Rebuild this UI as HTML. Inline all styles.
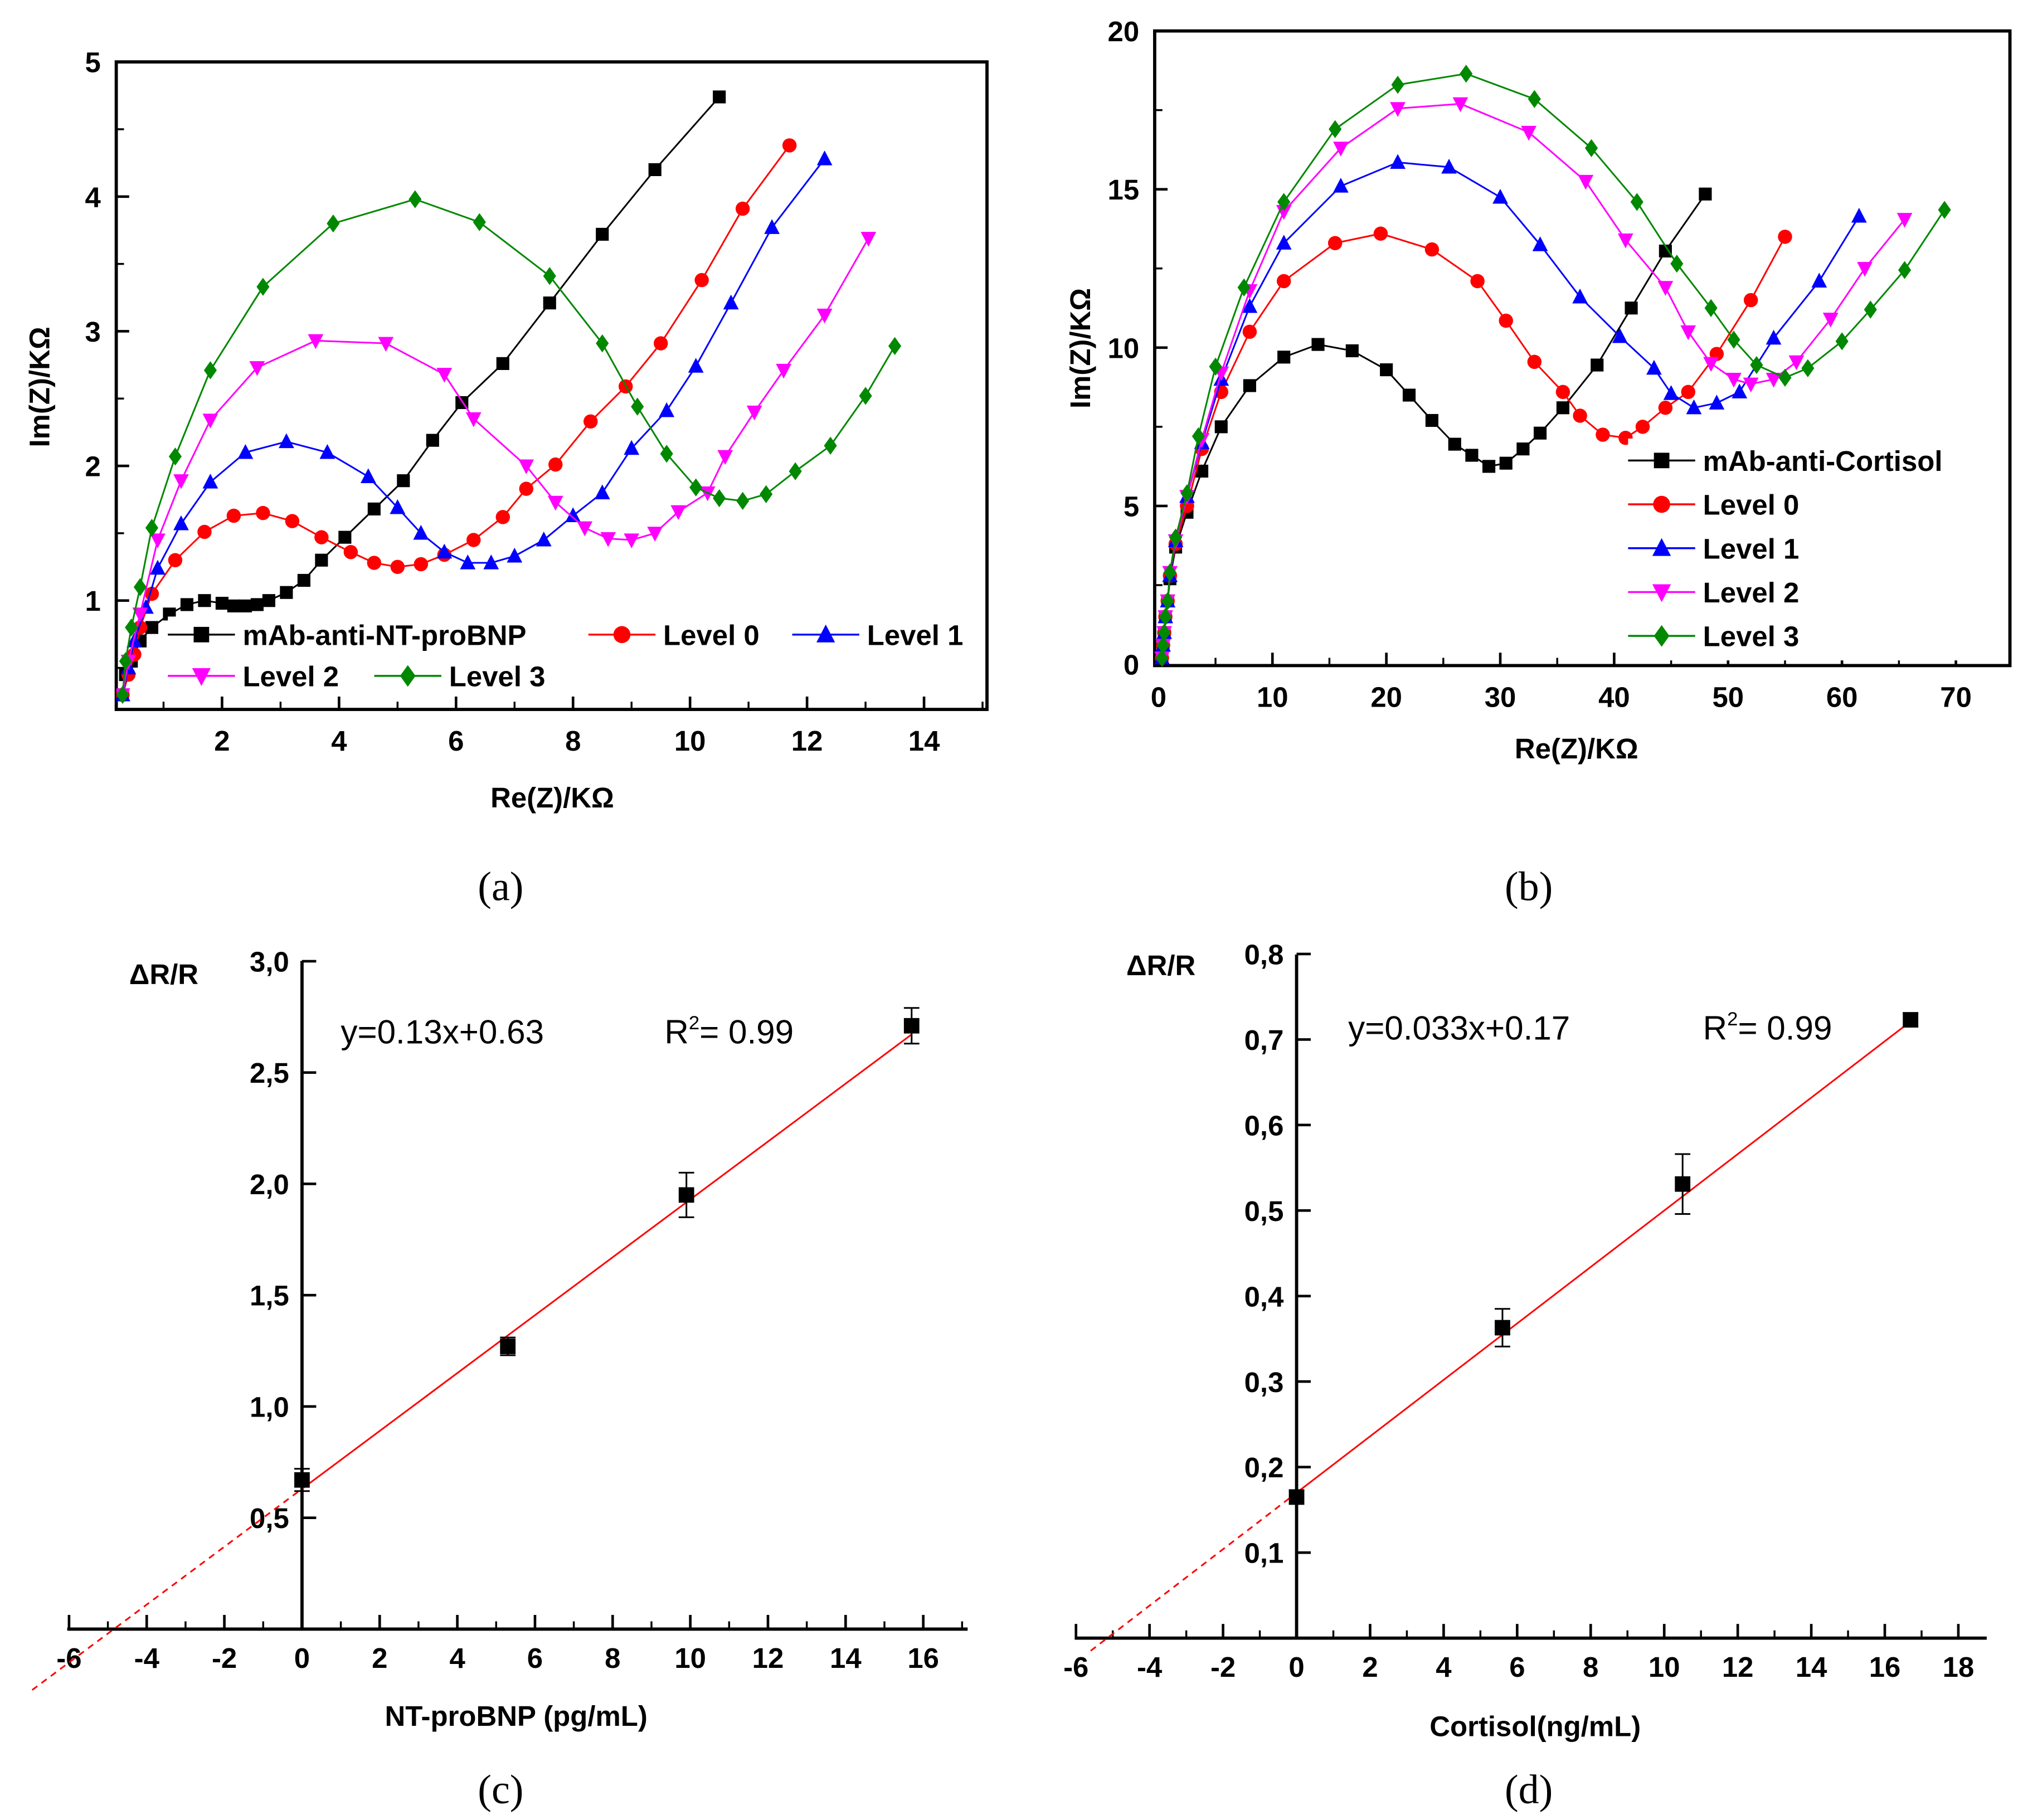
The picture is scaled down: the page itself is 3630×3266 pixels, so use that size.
<!DOCTYPE html>
<html><head><meta charset="utf-8"><style>
html,body{margin:0;padding:0;background:#fff}
svg{display:block}
text{font-family:"Liberation Sans",sans-serif}
.tk{font-weight:bold;font-size:22px}
.cap{font-family:"Liberation Serif",serif;font-size:32px}
</style></head><body>
<svg id="s" width="3630" height="3266" viewBox="0 0 1568 1411" xmlns="http://www.w3.org/2000/svg">
<g id="ga"></g>
<g id="gb"></g>
<g id="gc"></g>
<g id="gd"></g>
<text class="cap" x="388" y="698" text-anchor="middle">(a)</text>
<text class="cap" x="1185" y="698" text-anchor="middle">(b)</text>
<text class="cap" x="388" y="1398" text-anchor="middle">(c)</text>
<text class="cap" x="1185" y="1398" text-anchor="middle">(d)</text>
</svg>
<script>
// Panel A data
const aBlackX=[0.3,0.35,0.45,0.6,0.8,1.1,1.4,1.7,2.0,2.2,2.4,2.6,2.8,3.1,3.4,3.7,4.1,4.6,5.1,5.6,6.1,6.8,7.6,8.5,9.4,10.5];
const aBlackY=[0.3,0.45,0.55,0.7,0.8,0.9,0.97,1.0,0.98,0.96,0.96,0.97,1.0,1.06,1.15,1.3,1.47,1.68,1.89,2.19,2.47,2.76,3.21,3.72,4.2,4.74];
const aRedX=[0.3,0.4,0.5,0.6,0.8,1.2,1.7,2.2,2.7,3.2,3.7,4.2,4.6,5.0,5.4,5.8,6.3,6.8,7.2,7.7,8.3,8.9,9.5,10.2,10.9,11.7];
const aRedY=[0.3,0.45,0.6,0.8,1.05,1.3,1.51,1.63,1.65,1.59,1.47,1.36,1.28,1.25,1.27,1.34,1.45,1.62,1.83,2.01,2.33,2.59,2.91,3.38,3.91,4.38];
const aBlueX=[0.3,0.4,0.5,0.7,0.9,1.3,1.8,2.4,3.1,3.8,4.5,5.0,5.4,5.8,6.2,6.6,7.0,7.5,8.0,8.5,9.0,9.6,10.1,10.7,11.4,12.3];
const aBlueY=[0.3,0.5,0.7,0.95,1.24,1.57,1.88,2.1,2.18,2.1,1.92,1.69,1.5,1.36,1.28,1.28,1.33,1.45,1.63,1.8,2.13,2.41,2.74,3.21,3.77,4.28];
const aMagX=[0.3,0.4,0.6,0.9,1.3,1.8,2.6,3.6,4.8,5.8,6.3,7.2,7.7,8.2,8.6,9.0,9.4,9.8,10.3,10.6,11.1,11.6,12.3,13.05];
const aMagY=[0.3,0.55,0.9,1.45,1.89,2.34,2.73,2.93,2.91,2.68,2.35,2.0,1.73,1.54,1.46,1.45,1.5,1.66,1.8,2.07,2.4,2.71,3.12,3.69];
const aGrnX=[0.3,0.35,0.45,0.6,0.8,1.2,1.8,2.7,3.9,5.3,6.4,7.6,8.5,9.1,9.6,10.1,10.5,10.9,11.3,11.8,12.4,13.0,13.5];
const aGrnY=[0.3,0.55,0.8,1.1,1.54,2.07,2.71,3.33,3.8,3.98,3.81,3.41,2.91,2.44,2.09,1.84,1.76,1.74,1.79,1.96,2.15,2.52,2.89];
const aXTicks=[2,4,6,8,10,12,14];
const aYTicks=[1,2,3,4,5];
// Panel B data
const bBlackX=[0.3,0.4,0.5,0.6,0.8,1,1.5,2.5,3.8,5.5,8,11,14,17,20,22,24,26,27.5,29,30.5,32,33.5,35.5,38.5,41.5,44.5,48];
const bBlackY=[0.2,0.6,1,1.5,2,2.7,3.7,4.8,6.1,7.5,8.8,9.7,10.1,9.9,9.3,8.5,7.7,6.95,6.6,6.25,6.35,6.8,7.3,8.1,9.45,11.25,13.05,14.85];
const bRedX=[0.3,0.4,0.5,0.6,0.8,1,1.5,2.5,3.8,5.5,8,11,15.5,19.5,24,28,30.5,33,35.5,37,39,41,42.5,44.5,46.5,49,52,55];
const bRedY=[0.2,0.6,1,1.5,2,2.8,3.8,5.0,6.8,8.6,10.5,12.1,13.3,13.6,13.1,12.1,10.85,9.55,8.6,7.85,7.25,7.15,7.5,8.1,8.6,9.8,11.5,13.5];
const bBlueX=[0.3,0.4,0.5,0.6,0.8,1,1.5,2.5,3.8,5.5,8,11,16,21,25.5,30,33.5,37,40.5,43.5,45,47,49,51,54,58,61.5];
const bBlueY=[0.2,0.6,1,1.5,2,2.8,3.9,5.3,7.0,9.0,11.3,13.3,15.1,15.85,15.7,14.75,13.25,11.6,10.35,9.35,8.55,8.1,8.25,8.6,10.3,12.1,14.15];
const bMagX=[0.3,0.4,0.5,0.6,0.8,1,1.5,2.5,3.8,5.5,8,11,16,21,26.5,32.5,37.5,41,44.5,46.5,48.5,50.5,52,54,56,59,62,65.5];
const bMagY=[0.2,0.6,1,1.5,2,2.9,3.9,5.3,7.1,9.2,11.8,14.3,16.3,17.55,17.7,16.8,15.25,13.4,11.9,10.5,9.5,9.0,8.85,9.0,9.55,10.9,12.5,14.05];
const bGrnX=[0.3,0.4,0.5,0.6,0.8,1,1.5,2.5,3.5,5,7.5,11,15.5,21,27,33,38,42,45.5,48.5,50.5,52.5,55,57,60,62.5,65.5,69];
const bGrnY=[0.2,0.6,1,1.5,2,2.9,4.0,5.4,7.2,9.4,11.9,14.6,16.9,18.3,18.65,17.85,16.3,14.6,12.65,11.25,10.25,9.45,9.05,9.35,10.2,11.2,12.45,14.35];
const bXTicks=[0,10,20,30,40,50,60,70];
const bYTicks=[0,5,10,15,20];
// Panel C data
const cX=[0,5.3,9.9,15.7];
const cY=[0.67,1.27,1.95,2.71];
const cErr=[0.05,0.04,0.1,0.08];
const cSlope=[0.13], cIntercept=[0.63];
const cXTicks=[-6,-4,-2,0,2,4,6,8,10,12,14,16];
const cYTicks=[0.5,1.0,1.5,2.0,2.5,3.0];
const cYLabels=["0,5","1,0","1,5","2,0","2,5","3,0"];
// Panel D data
const dX=[0,5.6,10.5,16.7];
const dY=[0.165,0.363,0.531,0.723];
const dErr=[0.008,0.022,0.035,0.008];
const dSlope=[0.033], dIntercept=[0.17];
const dXTicks=[-6,-4,-2,0,2,4,6,8,10,12,14,16,18];
const dYTicks=[0.1,0.2,0.3,0.4,0.5,0.6,0.7,0.8];
const dYLabels=["0,1","0,2","0,3","0,4","0,5","0,6","0,7","0,8"];

const NS="http://www.w3.org/2000/svg";
function mk(p,t,a,txt){const e=document.createElementNS(NS,t);for(const k in a)e.setAttribute(k,a[k]);if(txt!==undefined)e.textContent=txt;p.appendChild(e);return e;}
function marker(p,type,x,y,s,col){
  let e;
  if(type==='sq') e=mk(p,'rect',{x:x-s,y:y-s,width:2*s,height:2*s,fill:col});
  else if(type==='ci') e=mk(p,'circle',{cx:x,cy:y,r:s*1.1,fill:col});
  else if(type==='tu') e=mk(p,'polygon',{points:`${x},${y-s*1.3} ${x-s*1.2},${y+s} ${x+s*1.2},${y+s}`,fill:col});
  else if(type==='td') e=mk(p,'polygon',{points:`${x},${y+s*1.3} ${x-s*1.2},${y-s} ${x+s*1.2},${y-s}`,fill:col});
  else e=mk(p,'polygon',{points:`${x},${y-s*1.4} ${x+s},${y} ${x},${y+s*1.4} ${x-s},${y}`,fill:col});
  
  
}
function series(p,xs,ys,sx,sy,type,col,name,s){
  const g=mk(p,'g',{});
  
  
  const pl=mk(g,'polyline',{points:xs.map((v,i)=>sx(v)+','+sy(ys[i])).join(' '),fill:'none',stroke:col,'stroke-width':1.3});
  
  
  xs.forEach((v,i)=>marker(g,type,sx(v),sy(ys[i]),s,col));
}
function legendEntry(p,x,y,type,col,label,name){
  const g=mk(p,'g',{});
  
  
  mk(g,'line',{x1:x,y1:y,x2:x+52,y2:y,stroke:col,'stroke-width':1.5});
  marker(g,type,x+26,y,6,col);
  mk(g,'text',{x:x+58,y:y+8,class:'tk','font-size':24},label);
}
function boxPlot(g,L,R,T,B,sx,sy,xt,yt){
  const ax=mk(g,'rect',{x:L,y:T,width:R-L,height:B-T,fill:'none',stroke:'#000','stroke-width':2.5});
  
  
  xt.forEach((v,i)=>{const x=sx(v);mk(g,'line',{x1:x,y1:B,x2:x,y2:B-10,stroke:'#000','stroke-width':2});
    const t=mk(g,'text',{x:x,y:B+32,class:'tk','text-anchor':'middle'},String(v));
    
    const m=(v+(xt[1]-xt[0])/2);const xm=sx(m);if(xm<R)mk(g,'line',{x1:xm,y1:B,x2:xm,y2:B-6,stroke:'#000','stroke-width':1.5});
    const m2=(v-(xt[1]-xt[0])/2);const xm2=sx(m2);if(i===0&&xm2>L)mk(g,'line',{x1:xm2,y1:B,x2:xm2,y2:B-6,stroke:'#000','stroke-width':1.5});});
  yt.forEach((v,i)=>{const y=sy(v);mk(g,'line',{x1:L,y1:y,x2:L+10,y2:y,stroke:'#000','stroke-width':2});
    const t=mk(g,'text',{x:L-12,y:y+8,class:'tk','text-anchor':'end'},String(v));
    
    const ym=sy(v+(yt[1]-yt[0])/2);if(ym>T)mk(g,'line',{x1:L,y1:ym,x2:L+6,y2:ym,stroke:'#000','stroke-width':1.5});
    if(i===0){const y2=sy(v-(yt[1]-yt[0])/2);if(y2<B)mk(g,'line',{x1:L,y1:y2,x2:L+6,y2:y2,stroke:'#000','stroke-width':1.5});}});
}
// Panel A
(function(){
  const g=document.getElementById('ga');
  const L=90,R=765,T=48,B=550;
  const sx=v=>81.3+v*45.35, sy=v=>570-v*104.4;
  boxPlot(g,L,R,T,B,sx,sy,aXTicks,aYTicks);
  const clip=mk(g,'clipPath',{id:'ca'});mk(clip,'rect',{x:L,y:T,width:R-L,height:B-T});
  const pg=mk(g,'g',{'clip-path':'url(#ca)'});
  series(pg,aBlackX,aBlackY,sx,sy,'sq','#000','series-mab-anti-nt-probnp',5);
  series(pg,aRedX,aRedY,sx,sy,'ci','#f00','series-level-0',5);
  series(pg,aBlueX,aBlueY,sx,sy,'tu','#00f','series-level-1',5);
  series(pg,aMagX,aMagY,sx,sy,'td','#f0f','series-level-2',5);
  series(pg,aGrnX,aGrnY,sx,sy,'di','#080','series-level-3',5);
  const lg=mk(g,'g',{});
  mk(lg,'rect',{x:130,y:478,width:630,height:62,fill:'#fff'});
  legendEntry(lg,130,492,'sq','#000','mAb-anti-NT-proBNP','legend-entry-mab');
  legendEntry(lg,456,492,'ci','#f00','Level 0','legend-entry-level-0');
  legendEntry(lg,614,492,'tu','#00f','Level 1','legend-entry-level-1');
  legendEntry(lg,130,524,'td','#f0f','Level 2','legend-entry-level-2');
  legendEntry(lg,290,524,'di','#080','Level 3','legend-entry-level-3');
  const xl=mk(g,'text',{x:428,y:626,class:'tk','font-size':26,'text-anchor':'middle'},'Re(Z)/KΩ');
  
  const yl=mk(g,'text',{x:0,y:0,class:'tk','font-size':26,'text-anchor':'middle',transform:'translate(38,300) rotate(-90)'},'Im(Z)/KΩ');
  
})();
// Panel B
(function(){
  const g=document.getElementById('gb');
  const L=895,R=1558,T=24,B=516;
  const sx=v=>898+v*8.83, sy=v=>515-v*24.55;
  boxPlot(g,L,R,T,B,sx,sy,bXTicks,bYTicks);
  series(g,bBlackX,bBlackY,sx,sy,'sq','#000','series-mab-anti-cortisol',5);
  series(g,bRedX,bRedY,sx,sy,'ci','#f00','series-level-0',5);
  series(g,bBlueX,bBlueY,sx,sy,'tu','#00f','series-level-1',5);
  series(g,bMagX,bMagY,sx,sy,'td','#f0f','series-level-2',5);
  series(g,bGrnX,bGrnY,sx,sy,'di','#080','series-level-3',5);
  const lg=mk(g,'g',{});
  mk(lg,'rect',{x:1262,y:340,width:290,height:172,fill:'#fff'});
  legendEntry(lg,1262,357,'sq','#000','mAb-anti-Cortisol','legend-entry-mab');
  legendEntry(lg,1262,391,'ci','#f00','Level 0','legend-entry-level-0');
  legendEntry(lg,1262,425,'tu','#00f','Level 1','legend-entry-level-1');
  legendEntry(lg,1262,459,'td','#f0f','Level 2','legend-entry-level-2');
  legendEntry(lg,1262,493,'di','#080','Level 3','legend-entry-level-3');
  const xl=mk(g,'text',{x:1222,y:588,class:'tk','font-size':26,'text-anchor':'middle'},'Re(Z)/KΩ');
  
  const yl=mk(g,'text',{x:0,y:0,class:'tk','font-size':26,'text-anchor':'middle',transform:'translate(845,270) rotate(-90)'},'Im(Z)/KΩ');
  
})();
// Calibration panels
function calib(g,X0,Y0,pxX,pxY,yTop,xLeft,xRight,xt,yt,ylab,xs,ys,es,slope,icpt,dashFrom,eq,r2pos,eqpos,xtitle,xtpos,arpos){
  const sx=v=>X0+v*pxX, sy=v=>Y0-v*pxY;
  const ax=mk(g,'g',{});
  mk(ax,'line',{x1:xLeft,y1:Y0,x2:xRight,y2:Y0,stroke:'#000','stroke-width':2.5});
  mk(ax,'line',{x1:X0,y1:Y0,x2:X0,y2:yTop,stroke:'#000','stroke-width':2.5});
  xt.forEach(v=>{const x=sx(v);mk(ax,'line',{x1:x,y1:Y0,x2:x,y2:Y0-11,stroke:'#000','stroke-width':2});
    const xm=sx(v+1);if(xm<xRight)mk(ax,'line',{x1:xm,y1:Y0,x2:xm,y2:Y0-6,stroke:'#000','stroke-width':1.5});
    const t=mk(ax,'text',{x:x,y:Y0+30,class:'tk','text-anchor':'middle'},String(v));
    });
  yt.forEach((v,i)=>{const y=sy(v);mk(ax,'line',{x1:X0,y1:y,x2:X0+11,y2:y,stroke:'#000','stroke-width':2});
    const t=mk(ax,'text',{x:X0-10,y:y+8,class:'tk','text-anchor':'end'},ylab[i]);
    });
  const fit=mk(g,'line',{x1:sx(0),y1:sy(icpt[0]),x2:sx(xs[xs.length-1]),y2:sy(icpt[0]+slope[0]*xs[xs.length-1]),stroke:'#f00','stroke-width':1.3});
  
  const ext=mk(g,'line',{x1:sx(dashFrom),y1:sy(icpt[0]+slope[0]*dashFrom),x2:sx(0),y2:sy(icpt[0]),stroke:'#f00','stroke-width':1.3,'stroke-dasharray':'5,4'});
  
  xs.forEach((v,i)=>{const x=sx(v);
    const eb=mk(g,'path',{d:`M${x},${sy(ys[i]+es[i])}V${sy(ys[i]-es[i])}M${x-6},${sy(ys[i]+es[i])}h12M${x-6},${sy(ys[i]-es[i])}h12`,stroke:'#000','stroke-width':1.3,fill:'none'});
    
    marker(g,'sq',x,sy(ys[i]),6,'#000');});
  const e1=mk(g,'text',{x:eqpos[0],y:eqpos[1],'font-size':26},eq);
  
  const r=mk(g,'text',{x:r2pos[0],y:r2pos[1],'font-size':26});
  
  r.innerHTML='R<tspan font-size="15" dy="-11">2</tspan><tspan dy="11">= 0.99</tspan>';
  const xl=mk(g,'text',{x:xtpos[0],y:xtpos[1],class:'tk','font-size':24,'text-anchor':'middle'},xtitle);
  
  const yl=mk(g,'text',{x:arpos[0],y:arpos[1],class:'tk','font-size':24},'ΔR/R');
  
}
calib(document.getElementById('gc'),234,1263,30.1,172.6,745,52,750,cXTicks,cYTicks,cYLabels,cX,cY,cErr,cSlope,cIntercept,-6.95,'y=0.13x+0.63',[515,809],[264,809],'NT-proBNP (pg/mL)',[400,1338],[100,763]);
calib(document.getElementById('gd'),1005,1270,28.5,663,740,833,1540,dXTicks,dYTicks,dYLabels,dX,dY,dErr,dSlope,dIntercept,-5.6,'y=0.033x+0.17',[1320,806],[1045,806],'Cortisol(ng/mL)',[1190,1346],[873,756]);
</script>
</body></html>
